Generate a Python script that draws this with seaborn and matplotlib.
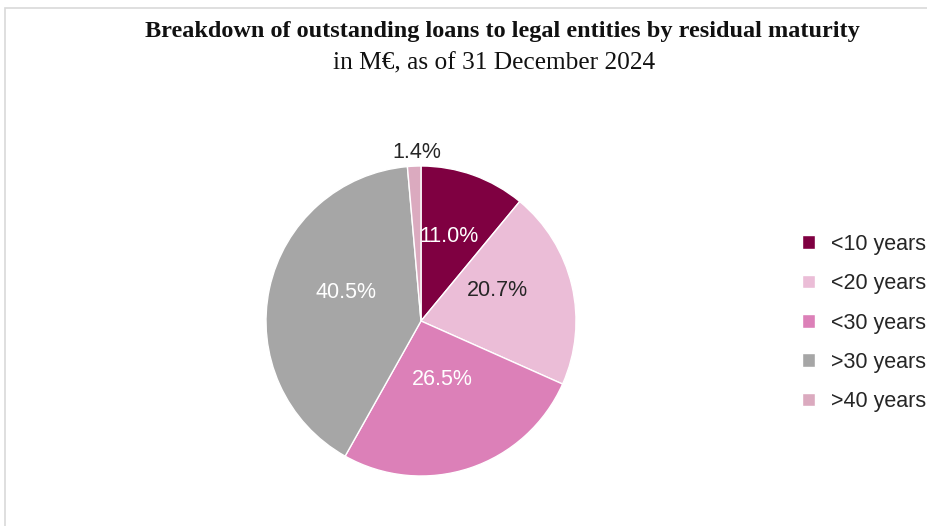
import matplotlib
matplotlib.use('Agg')
import matplotlib.pyplot as plt
import seaborn as sns
import numpy as np
from matplotlib.patches import Rectangle

# Données du graphique
categories = ['<10 years', '<20 years', '<30 years', '>30 years', '>40 years']
parts = [11.0, 20.7, 26.5, 40.5, 1.4]
couleurs = ['#7f0041', '#ebbdd7', '#dc80b8', '#a6a6a6', '#dbaabf']
couleurs_txt = ['white', '#262626', 'white', 'white', '#262626']
# placement des étiquettes (rayon relatif, décalage angulaire en degrés)
dist_txt = [0.577, 0.527, 0.40, 0.52, 1.09]
decal_txt = [1.5, 8.4, 1.4, -8.7, -1]

sns.set_theme(style='white')
plt.rcParams['font.family'] = ['Liberation Sans', 'DejaVu Sans']

fig = plt.figure(figsize=(9.28, 5.26), dpi=100)

# Cadre gris clair
fig.patches.append(Rectangle((5 / 928, -0.1), 1.2, (526 - 8) / 526 + 0.1,
                             transform=fig.transFigure, fill=False,
                             edgecolor='#d9d9d9', linewidth=1.2))

cx, cy, r = 421, 321, 155
ax = fig.add_axes([(cx - r) / 928, (526 - cy - r) / 526, 2 * r / 928, 2 * r / 526])

wedges, _ = ax.pie(parts, colors=couleurs, startangle=90, counterclock=False,
                   wedgeprops=dict(edgecolor='white', linewidth=1))
ax.set_xlim(-1, 1)
ax.set_ylim(-1, 1)
ax.set_aspect('equal')

for w, p, c, d, da in zip(wedges, parts, couleurs_txt, dist_txt, decal_txt):
    ang = np.deg2rad((w.theta1 + w.theta2) / 2 + da)
    ax.text(d * np.cos(ang), d * np.sin(ang), f'{p:.1f}%', ha='center', va='center',
            fontsize=15.5, color=c)

ax.legend(wedges, categories, loc='center left', bbox_to_anchor=(802 / 928, (526 - 323) / 526),
          bbox_transform=fig.transFigure, frameon=False, fontsize=15.5,
          handlelength=0.6, handleheight=0.6, handletextpad=0.75, labelspacing=0.85,
          borderaxespad=0, borderpad=0, labelcolor='#262626')

fig.text(502.5 / 928, 1 - 32 / 526, 'Breakdown of outstanding loans to legal entities by residual maturity',
         ha='center', va='center', fontsize=17.45, fontweight='bold', family='Liberation Serif', color='#111111')
fig.text(494.5 / 928, 1 - 63 / 526, 'in M€, as of 31 December 2024',
         ha='center', va='center', fontsize=18.3, family='Liberation Serif', color='#111111')

fig.savefig('out.png', dpi=100)
